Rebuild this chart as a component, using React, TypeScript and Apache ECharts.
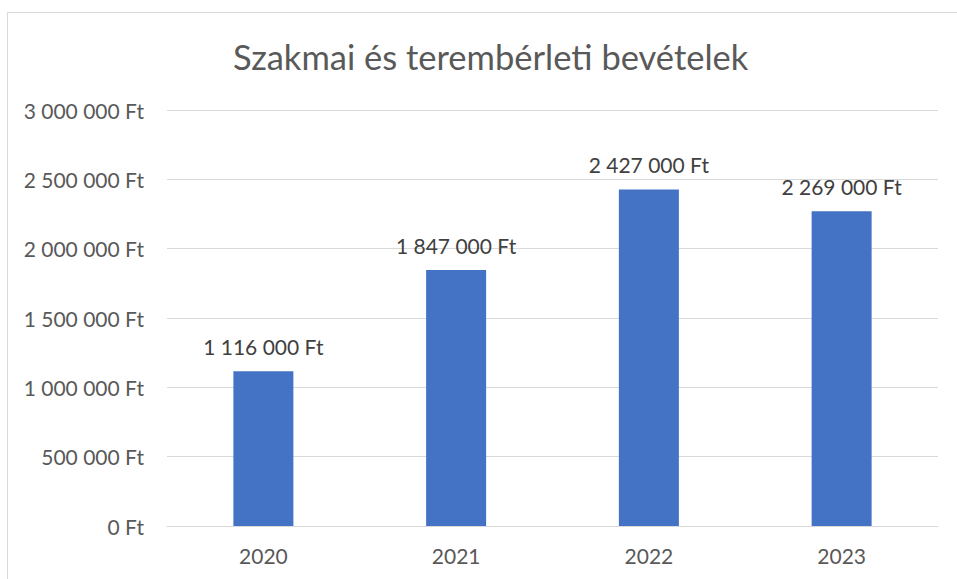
import React, { useEffect, useRef } from "react";
import * as echarts from "echarts";

const categories = ["2020", "2021", "2022", "2023"];
const values = [1116000, 1847000, 2427000, 2269000];
const titleText = "Szakmai és terembérleti bevételek";

const fmt = (v: number) =>
  String(Math.round(v)).replace(/\B(?=(\d{3})+(?!\d))/g, " ") + " Ft";

export default function App() {
  const ref = useRef<HTMLDivElement>(null);
  useEffect(() => {
    const chart = echarts.init(ref.current!, null, { renderer: "svg" });
    const font = "Lato";
    chart.setOption({
      animation: false,
      backgroundColor: "#ffffff",
      title: {
        text: titleText,
        left: 228,
        top: 34,
        textStyle: { fontFamily: font, fontSize: 34.5, fontWeight: "normal", color: "#595959" },
      },
      graphic: [
        { type: "line", shape: { x1: 7.5, y1: 12.5, x2: 957, y2: 12.5 }, style: { stroke: "#d9d9d9", lineWidth: 1 } },
        { type: "line", shape: { x1: 7.5, y1: 12.5, x2: 7.5, y2: 579 }, style: { stroke: "#d9d9d9", lineWidth: 1 } },
      ],
      grid: { left: 167, right: 19, top: 110, bottom: 53 },
      xAxis: {
        type: "category",
        data: categories,
        axisLine: { lineStyle: { color: "#d9d9d9" } },
        axisTick: { show: false },
        axisLabel: { fontFamily: font, fontSize: 21, color: "#595959", margin: 19 },
      },
      yAxis: {
        type: "value",
        min: 0,
        max: 3000000,
        interval: 500000,
        splitLine: { lineStyle: { color: "#d9d9d9" } },
        axisLabel: { fontFamily: font, fontSize: 21, color: "#595959", margin: 23, formatter: fmt },
      },
      series: [
        {
          type: "bar",
          data: values,
          barWidth: 60,
          itemStyle: { color: "#4472C4" },
          label: {
            show: true,
            position: "top",
            distance: 14,
            fontFamily: font,
            fontSize: 21,
            color: "#404040",
            formatter: (p: any) => fmt(p.value),
          },
        },
      ],
    });
    return () => chart.dispose();
  }, []);
  return (
    <div
      ref={ref}
      style={{ position: "absolute", left: 0, top: 0, width: 957, height: 579 }}
    />
  );
}
